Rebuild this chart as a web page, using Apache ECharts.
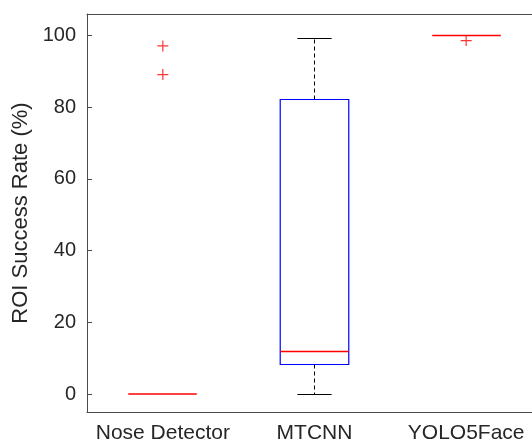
<!DOCTYPE html>
<html>
<head>
<meta charset="utf-8">
<script src="https://cdn.jsdelivr.net/npm/echarts@6/dist/echarts.min.js"></script>
<style>
  html, body { margin: 0; padding: 0; background: #fff; }
  #chart { width: 532px; height: 446px; }
</style>
</head>
<body>
<div id="chart"></div>
<script>
const categories = ['Nose Detector', 'MTCNN', 'YOLO5Face']
// [min whisker, Q1, median, Q3, max whisker]
const boxStats = [
  [0, 0, 0, 0, 0],
  [0, 8.3, 11.9, 82.1, 99.2],
  [100, 100, 100, 100, 100],
]
const outliers = [
  [0, 97.1],
  [0, 89.1],
  [2, 98.6],
]
const yTicks = [0, 20, 40, 60, 80, 100]

const AXIS_COLOR = '#4a4a4a'
const TEXT_COLOR = '#262626'
const MEDIAN_COLOR = 'rgb(255, 0, 0)'
const BOX_COLOR = 'rgb(0, 0, 255)'
const FONT = '"Liberation Sans", Arial, sans-serif'

const chart = echarts.init(document.getElementById('chart'))

const snap = (v) => Math.round(v - 0.5) + 0.5

function renderBox(params, api) {
  const x = api.value(0)
  const band = api.size([1, 0])[0]
  const halfBox = band * 0.226
  const halfCap = band * 0.113
  const yMin = snap(api.coord([x, api.value(1)])[1])
  const yQ1 = snap(api.coord([x, api.value(2)])[1])
  const yMed = api.coord([x, api.value(3)])[1]
  const yQ3 = snap(api.coord([x, api.value(4)])[1])
  const yMax = snap(api.coord([x, api.value(5)])[1])
  const cx = snap(api.coord([x, 0])[0])
  const children = []
  if (yMax !== yQ3) {
    children.push({ type: 'line', shape: { x1: cx, y1: yQ3, x2: cx, y2: yMax }, style: { stroke: '#000', lineWidth: 1, lineDash: [4, 3] } })
    children.push({ type: 'line', shape: { x1: cx - halfCap, y1: yMax, x2: cx + halfCap, y2: yMax }, style: { stroke: '#000', lineWidth: 1 } })
  }
  if (yMin !== yQ1) {
    children.push({ type: 'line', shape: { x1: cx, y1: yQ1, x2: cx, y2: yMin }, style: { stroke: '#000', lineWidth: 1, lineDash: [4, 3] } })
    children.push({ type: 'line', shape: { x1: cx - halfCap, y1: yMin, x2: cx + halfCap, y2: yMin }, style: { stroke: '#000', lineWidth: 1 } })
  }
  if (yQ1 !== yQ3) {
    children.push({
      type: 'rect',
      shape: { x: cx - halfBox, y: yQ3, width: halfBox * 2, height: yQ1 - yQ3 },
      style: { fill: 'none', stroke: BOX_COLOR, lineWidth: 1.2 },
    })
  }
  children.push({
    type: 'line',
    z2: 10,
    shape: { x1: cx - halfBox, y1: yMed, x2: cx + halfBox, y2: yMed },
    style: { stroke: MEDIAN_COLOR, lineWidth: 1.5 },
  })
  return { type: 'group', children }
}

const option = {
  animation: false,
  // plot box runs past the right edge of the canvas, as in the source figure
  grid: { left: 87, width: 455, top: 14, bottom: 34, outerBoundsMode: 'none' },
  xAxis: [
    {
      type: 'category',
      data: categories,
      position: 'bottom',
      axisLine: { onZero: false, lineStyle: { color: AXIS_COLOR, width: 1 } },
      axisTick: { alignWithLabel: true, inside: true, length: 5, lineStyle: { color: AXIS_COLOR } },
      axisLabel: { interval: 0, color: TEXT_COLOR, fontSize: 21, fontFamily: FONT, margin: 11 },
    },
    {
      type: 'category',
      data: categories,
      position: 'top',
      axisLine: { onZero: false, lineStyle: { color: AXIS_COLOR, width: 1 } },
      axisTick: { alignWithLabel: true, inside: true, length: 5, lineStyle: { color: AXIS_COLOR } },
      axisLabel: { show: false },
    },
  ],
  yAxis: {
    type: 'value',
    min: -5,
    max: 106,
    name: 'ROI Success Rate (%)',
    nameLocation: 'middle',
    nameRotate: 90,
    nameGap: 47,
    nameTextStyle: { color: TEXT_COLOR, fontSize: 22, fontFamily: FONT },
    splitLine: { show: false },
    axisLine: { show: true, lineStyle: { color: AXIS_COLOR, width: 1 } },
    axisTick: { show: true, inside: true, length: 5, customValues: yTicks, lineStyle: { color: AXIS_COLOR } },
    axisLabel: { color: TEXT_COLOR, fontSize: 20, fontFamily: FONT, margin: 11, customValues: yTicks },
  },
  series: [
    {
      type: 'custom',
      renderItem: renderBox,
      encode: { x: 0, y: [1, 2, 3, 4, 5] },
      data: boxStats.map((s, i) => [i, ...s]),
      z: 2,
    },
    {
      type: 'scatter',
      data: outliers,
      symbol: 'path://M0,5L10,5M5,0L5,10',
      symbolSize: 11,
      itemStyle: { color: 'none', borderColor: MEDIAN_COLOR, borderWidth: 1.2 },
      z: 3,
    },
  ],
}

chart.setOption(option)
</script>
</body>
</html>
